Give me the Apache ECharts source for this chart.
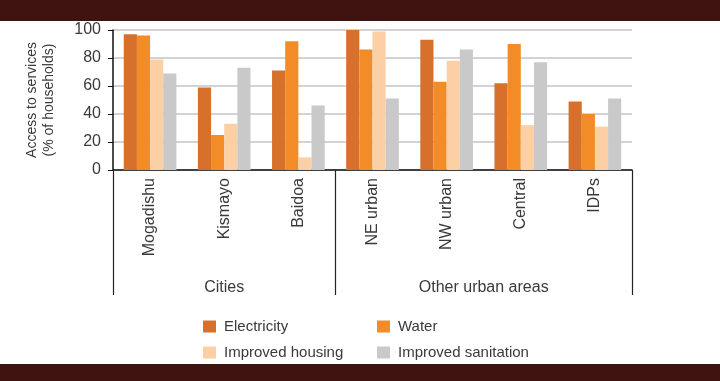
<!DOCTYPE html>
<html><head><meta charset="utf-8">
<script src="https://cdn.jsdelivr.net/npm/echarts@6/dist/echarts.min.js"></script>
<style>html,body{margin:0;padding:0;background:#fff}#c{width:720px;height:381px}</style>
</head><body><div id="c"></div>
<script>
const categories = ["Mogadishu","Kismayo","Baidoa","NE urban","NW urban","Central","IDPs"];
const electricity = [97, 59, 71, 100, 93, 62, 49];
const water = [96, 25, 92, 86, 63, 90, 40];
const housing = [79, 33, 9, 99, 78, 32, 31];
const sanitation = [69, 73, 46, 51, 86, 77, 51];
const groups = ["Cities", "Other urban areas"];
const groupSpans = [3, 4];
const yTicks = [0, 20, 40, 60, 80, 100];

const colors = {Electricity:'#d6702a', Water:'#f38b26', 'Improved housing':'#fccfa4', 'Improved sanitation':'#c9c9c9'};
const txt = '#3a3a3a';
const font = '"Liberation Sans", Arial, sans-serif';

const bounds = [0]; groupSpans.forEach(s => bounds.push(bounds[bounds.length-1] + s));
const centers = groupSpans.map((s, i) => bounds[i] + s / 2);

const chart = echarts.init(document.getElementById('c'));
function legendAt(name, left, top) {
  return {data:[name], left, top, padding:0, itemWidth:13, itemHeight:12, itemGap:0, icon:'rect',
    textStyle:{color:txt, fontSize:15, fontFamily:font, padding:[0,0,0,3]}, selectedMode:false};
}
chart.setOption({
  animation:false,
  textStyle:{fontFamily:font},
  graphic:[
    {type:'rect', shape:{x:0,y:0,width:720,height:21}, style:{fill:'#3f1310'}},
    {type:'rect', shape:{x:0,y:364,width:720,height:17}, style:{fill:'#3f1310'}}
  ],
  grid:{left:113, right:88, top:30, bottom:211},
  legend:[
    legendAt('Electricity', 203, 319),
    legendAt('Water', 377, 319),
    legendAt('Improved housing', 203, 345),
    legendAt('Improved sanitation', 377, 345)
  ],
  xAxis:[{
    type:'category', data:categories,
    axisLine:{lineStyle:{color:'#111', width:1.5}},
    axisTick:{interval:0, length:95, lineStyle:{color:'#222', width:1.2}},
    axisLabel:{interval:0, rotate:90, color:txt, fontSize:16, margin:8}
  },{
    type:'value', min:0, max:categories.length, position:'bottom',
    axisLine:{show:false}, splitLine:{show:false},
    axisTick:{show:true, customValues:bounds, length:125, lineStyle:{color:'#222', width:1.2}},
    axisLabel:{customValues:centers, margin:110, color:txt, fontSize:16,
      formatter:v => groups[centers.indexOf(v)] || ''}
  }],
  yAxis:{
    type:'value', min:0, max:100, interval:20,
    name:'Access to services\n(% of households)', nameLocation:'middle', nameGap:55,
    nameTextStyle:{color:txt, fontSize:14, lineHeight:17},
    axisLine:{show:true, lineStyle:{color:'#111', width:1.5}},
    axisTick:{show:true, length:5, lineStyle:{color:'#111'}},
    axisLabel:{color:txt, fontSize:16, margin:12, customValues:yTicks},
    splitLine:{lineStyle:{color:'#c4c4c4', width:1.5}}
  },
  series:[
    {name:'Electricity', type:'bar', data:electricity, itemStyle:{color:colors.Electricity}, barGap:'0%', barCategoryGap:'29%'},
    {name:'Water', type:'bar', data:water, itemStyle:{color:colors.Water}},
    {name:'Improved housing', type:'bar', data:housing, itemStyle:{color:colors['Improved housing']}},
    {name:'Improved sanitation', type:'bar', data:sanitation, itemStyle:{color:colors['Improved sanitation']}}
  ]
});
</script></body></html>
